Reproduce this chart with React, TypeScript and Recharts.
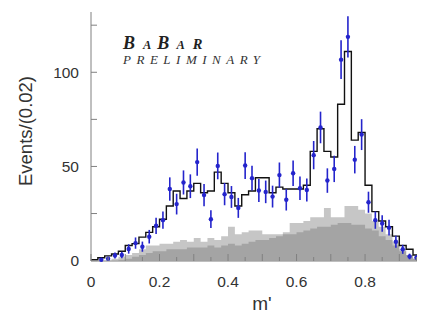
import React from "react";
import { ComposedChart, Area, Line, Scatter, ErrorBar, XAxis, YAxis } from "recharts";

// histogram binning: 0.02 in m'
const BIN_WIDTH = 0.02;

// total fit (black step histogram), one value per bin
const MC_TOTAL = [
  0.5, 1.5, 2.5, 3.5, 5, 8, 9, 12.5, 15, 18,
  22, 29, 37, 33, 37, 41, 36, 37, 47, 41,
  36, 29, 35, 37, 44, 44, 36, 39, 38, 38,
  38, 40, 58, 70, 58, 55, 83, 111, 64, 68,
  40, 26, 21, 18, 13, 8, 6, 3,
];

// background components (light = upper band, dark = lower band)
const BKG_LIGHT = [
  0, 0, 0, 1, 2, 3, 4, 6, 8, 8,
  9, 9, 10, 11, 10, 12, 10, 12, 11, 13,
  18, 14, 15, 16, 16, 14, 14, 14, 15, 20,
  20, 21, 23, 23, 28, 23, 23, 29, 29, 27,
  25, 21, 18, 14, 10, 6, 3, 1,
];
const BKG_DARK = [
  0, 0, 0, 0, 0.5, 1, 2, 3, 4, 5,
  5, 6, 6, 6, 7, 7, 7, 8, 7, 8,
  9, 8, 9, 10, 11, 11, 12, 13, 14, 14,
  15, 16, 17, 18, 18, 19, 20, 20, 19, 19,
  17, 16, 13, 11, 8, 5, 3, 1,
];

// data points and their errors (null = no point)
const DATA_COUNTS = [
  null, 0.5, 1, 2.7, 3, 6.2, 9.3, 7.4, 12.7, 18.5,
  21.5, 38, 30, 41.5, 39.5, 52.3, 34.8, 22, 50.3, 35.3,
  33.8, 28, 50.5, 43.8, 37.2, 36.5, 34, 45.4, 32.3, 46.4,
  38.4, 37.5, 56, 70.7, 42.5, 48.7, 106.7, 118.8, 53.6, 66.9,
  31, 21.5, 19.7, 17.5, 10, 6, 2.2, 1.6,
];
const DATA_ERRORS = [
  null, 0.7, 1, 1.6, 1.7, 2.5, 3, 2.7, 3.6, 4.3,
  4.6, 6.2, 5.5, 6.4, 6.3, 7.2, 5.9, 4.7, 7.1, 5.9,
  5.8, 5.3, 7.1, 6.6, 6.1, 6, 5.8, 6.7, 5.7, 6.8,
  6.2, 6.1, 7.5, 8.4, 6.5, 7, 10.3, 10.9, 7.3, 8.2,
  5.6, 4.6, 4.4, 4.2, 3.2, 2.4, 1.5, 1.3,
];

const X_TICKS = [0, 0.05, 0.1, 0.15, 0.2, 0.25, 0.3, 0.35, 0.4, 0.45, 0.5, 0.55, 0.6, 0.65, 0.7, 0.75, 0.8, 0.85, 0.9, 0.95];
const X_LABELS = [0, 0.2, 0.4, 0.6, 0.8];
const Y_TICKS = [0, 25, 50, 75, 100, 125];
const Y_LABELS = [0, 50, 100];

const AXIS = "#808080";
const TEXT = "#333";
const BLUE = "#2424cc";
const SANS = "'Liberation Sans', Arial, sans-serif";
const SERIF = "'Liberation Serif', 'Times New Roman', serif";

const histRows = MC_TOTAL.map((v, i) => ({
  x: i * BIN_WIDTH,
  total: v,
  light: BKG_LIGHT[i],
  dark: BKG_DARK[i],
}));
histRows.push({ x: MC_TOTAL.length * BIN_WIDTH, total: 0, light: 0, dark: 0 });

const points = DATA_COUNTS.map((v, i) =>
  v == null ? null : { x: (i + 0.5) * BIN_WIDTH, y: v, err: DATA_ERRORS[i] },
).filter(Boolean);

const near = (a: number, b: number) => Math.abs(a - b) < 1e-6;
const isTenth = (v: number) => near(v * 10, Math.round(v * 10));

function BottomTick({ x, y, payload }: any) {
  const v = payload.value;
  const labeled = X_LABELS.some((l) => near(l, v));
  return (
    <g>
      <line x1={x} x2={x} y1={y} y2={y - (isTenth(v) ? 7 : 4)} stroke={AXIS} />
      {labeled && (
        <text x={x} y={y + 26} textAnchor="middle" fontSize={15.5} fill={TEXT} fontFamily={SANS}>
          {v === 0 ? "0" : v.toFixed(1)}
        </text>
      )}
    </g>
  );
}

function TopTick({ x, y, payload }: any) {
  const v = payload.value;
  return <line x1={x} x2={x} y1={y} y2={y + (isTenth(v) ? 7 : 4)} stroke={AXIS} />;
}

function LeftTick({ x, y, payload }: any) {
  const v = payload.value;
  const labeled = Y_LABELS.includes(v);
  return (
    <g>
      <line x1={x} x2={x + 6} y1={y} y2={y} stroke={AXIS} />
      {labeled && (
        <text x={x - 12} y={y + 5.5} textAnchor="end" fontSize={15.5} fill={TEXT} fontFamily={SANS}>
          {v}
        </text>
      )}
    </g>
  );
}

const Dot = (p: any) => <circle cx={p.cx} cy={p.cy} r={2.2} fill={BLUE} />;

export default function App() {
  return (
    <div style={{ position: "relative", width: 417, height: 312 }}>
      <ComposedChart
        width={417}
        height={312}
        data={histRows}
        margin={{ top: 4, right: 0, bottom: 0, left: 0 }}
      >
        <XAxis
          dataKey="x"
          type="number"
          domain={[0, 0.975]}
          ticks={X_TICKS}
          interval={0}
          tick={<BottomTick />}
          tickLine={false}
          tickSize={0}
          tickMargin={0}
          height={59}
          axisLine={{ stroke: AXIS }}
        />
        <XAxis
          xAxisId="top"
          orientation="top"
          dataKey="x"
          type="number"
          domain={[0, 0.975]}
          ticks={X_TICKS}
          interval={0}
          tick={<TopTick />}
          tickLine={false}
          tickSize={0}
          tickMargin={0}
          height={0}
          axisLine={{ stroke: AXIS }}
        />
        <YAxis
          type="number"
          domain={[0, 132]}
          ticks={Y_TICKS}
          interval={0}
          tick={<LeftTick />}
          tickLine={false}
          tickSize={0}
          tickMargin={0}
          width={83}
          axisLine={{ stroke: AXIS }}
        />
        <Area
          type="stepAfter"
          dataKey="light"
          stroke="none"
          fill="#c6c6c6"
          fillOpacity={1}
          isAnimationActive={false}
        />
        <Area
          type="stepAfter"
          dataKey="dark"
          stroke="none"
          fill="#a4a4a4"
          fillOpacity={1}
          isAnimationActive={false}
        />
        <Line
          type="stepAfter"
          dataKey="total"
          stroke="#111"
          strokeWidth={1.4}
          dot={false}
          isAnimationActive={false}
        />
        <Scatter data={points} dataKey="y" fill={BLUE} shape={Dot} isAnimationActive={false}>
          <ErrorBar dataKey="err" direction="y" width={0} stroke={BLUE} strokeWidth={1.6} />
        </Scatter>
      </ComposedChart>

      <svg
        width={417}
        height={312}
        style={{ position: "absolute", left: 0, top: 0, pointerEvents: "none" }}
      >
        <text
          x={24}
          y={123}
          transform="rotate(-90 24 123)"
          textAnchor="middle"
          fontSize={18.5}
          fill={TEXT}
          fontFamily={SANS}
        >
          Events/(0.02)
        </text>
        <text x={254} y={302} textAnchor="middle" fontSize={19} fill={TEXT} fontFamily={SANS}>
          m'
        </text>
        <text x={115} y={41} fontFamily={SERIF} fontStyle="italic" fontWeight="bold" fill="#222">
          <tspan fontSize={18}>B</tspan>
          <tspan dx={8} fontSize={12.5}>A</tspan>
          <tspan dx={6} fontSize={18}>B</tspan>
          <tspan dx={7} fontSize={12.5}>A</tspan>
          <tspan dx={8} fontSize={14.5}>R</tspan>
        </text>
        <text
          x={115}
          y={56}
          fontSize={13}
          fontStyle="italic"
          letterSpacing={5.5}
          fill="#333"
          fontFamily={SERIF}
        >
          PRELIMINARY
        </text>
      </svg>
    </div>
  );
}
